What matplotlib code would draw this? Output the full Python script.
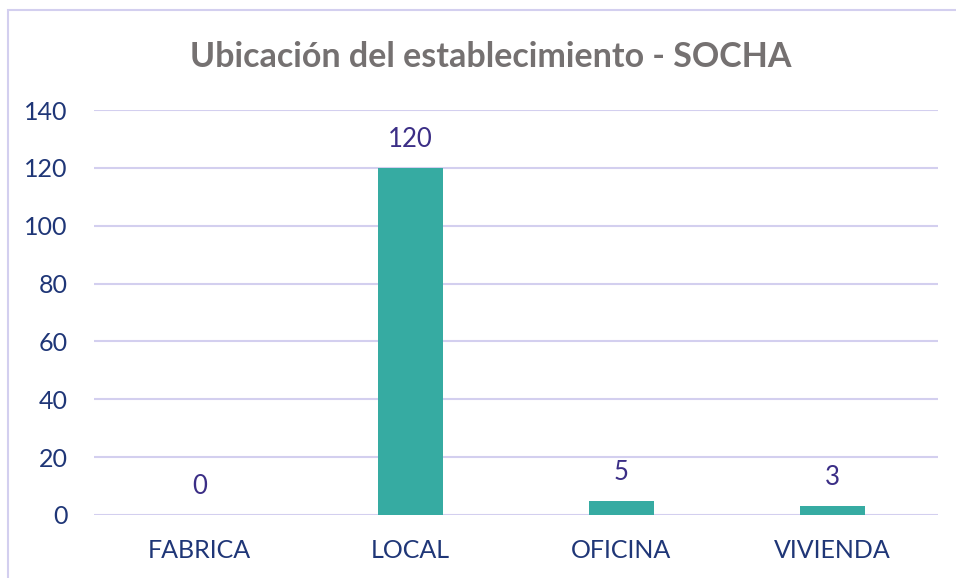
import matplotlib.pyplot as plt
from matplotlib.patches import Rectangle

categories = ["FABRICA", "LOCAL", "OFICINA", "VIVIENDA"]
values = [0, 120, 5, 3]
yticks = [0, 20, 40, 60, 80, 100, 120, 140]

plt.rcParams['font.family'] = ['Lato', 'DejaVu Sans']

W, H = 956, 578
fig = plt.figure(figsize=(W / 100, H / 100), dpi=100)
ax = fig.add_axes([94 / W, (H - 515) / H, (938 - 94) / W, (515 - 110) / H])

# chart border (only left and top visible in the reference)
fig.patches.append(Rectangle((8 / W, -0.5), 2, (H - 10) / H + 0.5,
                             transform=fig.transFigure, fill=False,
                             edgecolor='#D3CFEF', linewidth=1.5))

x = range(len(categories))
ax.bar(x, values, width=0.31, color='#36ABA2', zorder=3)
for i, v in zip(x, values):
    ax.text(i, v + 5.5, str(v), ha='center', va='bottom', fontsize=18.5,
            color='#3B2E86')

ax.set_xlim(-0.5, len(categories) - 0.5)
ax.set_ylim(0, 140)
ax.set_yticks(yticks)
ax.set_xticks(list(x))
ax.set_xticklabels(categories)
ax.tick_params(axis='both', length=0, labelsize=18, labelcolor='#1F3677')
ax.tick_params(axis='y', pad=19)
ax.tick_params(axis='x', pad=17)
ax.grid(axis='y', color='#D3CFEF', linewidth=1.5, zorder=0)
for s in ax.spines.values():
    s.set_visible(False)

fig.text(491 / W, (H - 57) / H, "Ubicación del establecimiento - SOCHA",
         ha='center', va='center', fontsize=24.5, fontweight='bold',
         color='#757171')

fig.savefig("out.png", dpi=100)
